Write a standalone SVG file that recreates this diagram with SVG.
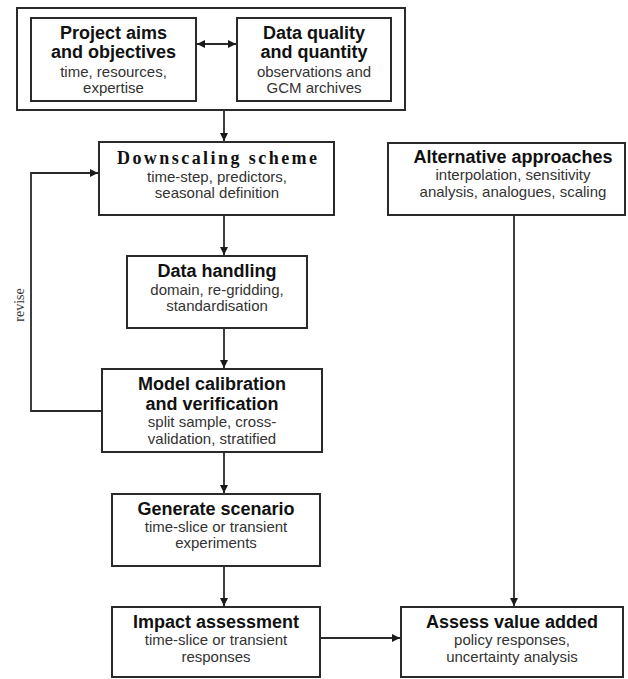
<svg xmlns="http://www.w3.org/2000/svg" width="628" height="679" viewBox="0 0 628 679">
<defs>
<marker id="ah" viewBox="0 0 10 10" refX="10" refY="5" markerWidth="8" markerHeight="8" markerUnits="userSpaceOnUse" orient="auto-start-reverse">
<path d="M0,0 L10,5 L0,10 z" fill="#1a1a1a"/>
</marker>
<style>
rect.box{fill:#fff;stroke:#2a2a2a;stroke-width:2}
.t{font-family:"Liberation Sans",Arial,sans-serif;font-weight:bold;font-size:18px;fill:#111;text-anchor:middle}
.ts{font-family:"Liberation Serif","Times New Roman",serif;font-weight:bold;font-size:18px;fill:#111;text-anchor:middle}
.s{font-family:"Liberation Sans",Arial,sans-serif;font-size:15px;fill:#333;text-anchor:middle}
.c{fill:none;stroke:#2a2a2a;stroke-width:1.8}
.lbl{font-family:"Liberation Serif","Times New Roman",serif;font-size:14px;fill:#333;text-anchor:middle}
</style>
</defs>
<rect width="628" height="679" fill="#fff"/>

<g id="inputs">
<rect class="box" x="17" y="8" width="388" height="102"/>
</g>

<g id="project-aims">
<rect class="box" x="31" y="18" width="165" height="83"/>
<text class="t" x="113.5" y="39">Project aims</text>
<text class="t" x="113.5" y="58">and objectives</text>
<text class="s" x="113.5" y="77">time, resources,</text>
<text class="s" x="113.5" y="93">expertise</text>
</g>

<g id="data-quality">
<rect class="box" x="237" y="18" width="154" height="83"/>
<text class="t" x="314" y="39">Data quality</text>
<text class="t" x="314" y="58">and quantity</text>
<text class="s" x="314" y="77">observations and</text>
<text class="s" x="314" y="93">GCM archives</text>
</g>

<g id="downscaling">
<rect class="box" x="99" y="142" width="235" height="73"/>
<text class="ts" x="217" y="164" textLength="200" lengthAdjust="spacing">Downscaling scheme</text>
<text class="s" x="217" y="182">time-step, predictors,</text>
<text class="s" x="217" y="198">seasonal definition</text>
</g>

<g id="alternative">
<rect class="box" x="388" y="143" width="237" height="72"/>
<text class="t" x="513" y="163">Alternative approaches</text>
<text class="s" x="513" y="180">interpolation, sensitivity</text>
<text class="s" x="513" y="197">analysis, analogues, scaling</text>
</g>

<g id="data-handling">
<rect class="box" x="127" y="256" width="180" height="72"/>
<text class="t" x="217" y="277">Data handling</text>
<text class="s" x="217" y="295">domain, re-gridding,</text>
<text class="s" x="217" y="311">standardisation</text>
</g>

<g id="model-calibration">
<rect class="box" x="102" y="369" width="220" height="83"/>
<text class="t" x="212" y="390">Model calibration</text>
<text class="t" x="212" y="410">and verification</text>
<text class="s" x="212" y="427">split sample, cross-</text>
<text class="s" x="212" y="444">validation, stratified</text>
</g>

<g id="generate-scenario">
<rect class="box" x="112" y="494" width="208" height="72"/>
<text class="t" x="216" y="515">Generate scenario</text>
<text class="s" x="216" y="532">time-slice or transient</text>
<text class="s" x="216" y="548">experiments</text>
</g>

<g id="impact-assessment">
<rect class="box" x="112" y="607" width="208" height="70"/>
<text class="t" x="216" y="628">Impact assessment</text>
<text class="s" x="216" y="645">time-slice or transient</text>
<text class="s" x="216" y="662">responses</text>
</g>

<g id="assess-value">
<rect class="box" x="401" y="607" width="222" height="70"/>
<text class="t" x="512" y="628">Assess value added</text>
<text class="s" x="512" y="645">policy responses,</text>
<text class="s" x="512" y="662">uncertainty analysis</text>
</g>

<g id="connectors">
<line class="c" x1="197" y1="44" x2="236" y2="44" marker-start="url(#ah)" marker-end="url(#ah)"/>
<line class="c" x1="224" y1="111" x2="224" y2="141" marker-end="url(#ah)"/>
<line class="c" x1="224" y1="216" x2="224" y2="255" marker-end="url(#ah)"/>
<line class="c" x1="224" y1="329" x2="224" y2="368" marker-end="url(#ah)"/>
<line class="c" x1="224" y1="453" x2="224" y2="493" marker-end="url(#ah)"/>
<line class="c" x1="224" y1="567" x2="224" y2="606" marker-end="url(#ah)"/>
<line class="c" x1="321" y1="638" x2="400" y2="638" marker-end="url(#ah)"/>
<line class="c" x1="514" y1="216" x2="514" y2="606" marker-end="url(#ah)"/>
<polyline class="c" points="101,411 31,411 31,173 98,173" marker-end="url(#ah)"/>
<text class="lbl" transform="translate(24,305) rotate(-90)">revise</text>
</g>
</svg>
